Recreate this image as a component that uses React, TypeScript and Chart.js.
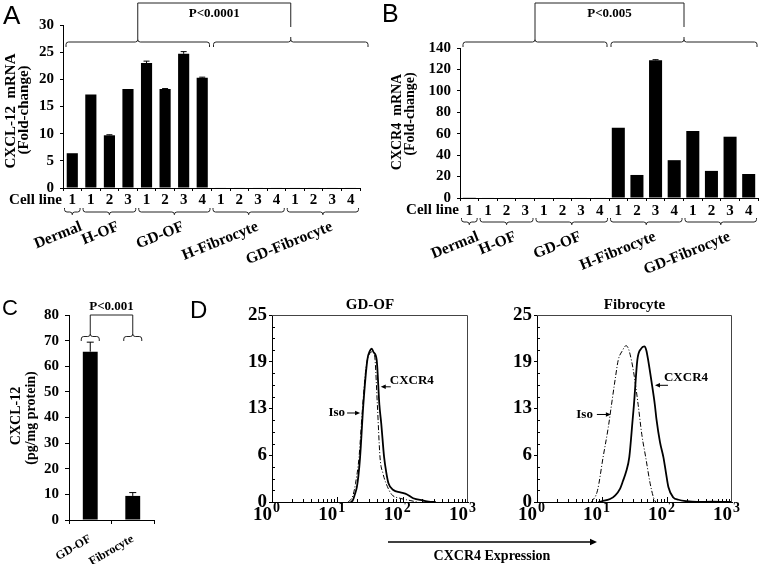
import React, { useEffect, useRef } from 'react';
import { Chart, registerables } from 'chart.js';

Chart.register(...registerables);
Chart.defaults.color = '#000';

const SERIF = '"Liberation Serif", "Times New Roman", Times, serif';
const SANS = '"Liberation Sans", Arial, Helvetica, sans-serif';

// ---------- Panels A & B : mRNA per cell line ----------
const cellLineLabels = ['1', '1', '2', '3', '1', '2', '3', '4', '1', '2', '3', '4', '1', '2', '3', '4'];
const cellGroups = ['Dermal', 'H-OF', 'GD-OF', 'H-Fibrocyte', 'GD-Fibrocyte'];
const cellGroupSizes = [1, 3, 4, 4, 4];
const comparisonSizes = [8, 8];
const cxcl12Mrna = [6.4, 17.2, 9.7, 18.2, 23.0, 18.2, 24.7, 20.3, 0.1, 0.1, 0.1, 0.1, 0.1, 0.1, 0.1, 0.1];
const cxcl12MrnaErr = [0, 0, 0.1, 0, 0.35, 0.1, 0.4, 0.1, 0, 0, 0, 0, 0, 0, 0, 0];
const cxcr4Mrna = [0.3, 0.5, 0.5, 0.5, 0.5, 0.5, 0.5, 0.5, 65.5, 21.5, 128.5, 35.3, 62.5, 25.3, 57.2, 22.4];
const cxcr4MrnaErr = [0, 0, 0, 0, 0, 0, 0, 0, 0, 0, 0.6, 0, 0, 0, 0, 0];
const pA = 'P<0.0001';
const pB = 'P<0.005';

// ---------- Panel C : CXCL-12 protein ----------
const proteinCats = ['GD-OF', 'Fibrocyte'];
const cxcl12Protein = [65.7, 9.4];
const cxcl12ProteinErr = [3.7, 1.3];
const pC = 'P<0.001';

// ---------- Panel D : flow cytometry histograms ----------
const dYTicks = [0, 6.25, 12.5, 18.75, 25];
const gdofIsoX = [14.5, 16, 17.5, 19, 21.5, 24, 27.5, 31, 35.6, 37.8, 41, 45, 50, 55.7, 68, 91, 130, 165];
const gdofIsoY = [0, 0.3, 1, 2.5, 6, 12, 18, 19.8, 20.1, 19, 13, 6, 3.8, 2.5, 1, 0.5, 0.2, 0];
const gdofCxcr4X = [16, 17.2, 18.5, 19.9, 21, 22.3, 25, 28.8, 31.5, 33.6, 36, 40, 44, 47, 52, 56, 60.6, 72, 92, 117, 145, 205, 250, 320];
const gdofCxcr4Y = [0, 0.2, 1, 2, 3.5, 6, 13, 19, 20.2, 20.5, 20, 19, 13, 10.5, 6, 4, 2.5, 1.6, 1.3, 1.0, 0.5, 0.2, 0.05, 0];
const fibIsoX = [6.9, 8.5, 10.4, 12.5, 14, 16, 17.8, 20.5, 23.4, 25.5, 28.6, 31.4, 36, 41, 47, 55, 62, 67];
const fibIsoY = [0, 1.5, 6, 10, 13, 16.5, 19, 20.2, 20.9, 20.5, 18.8, 16.8, 13, 9, 6, 2.5, 0.6, 0];
const fibCxcr4X = [8.8, 9.9, 13.3, 16, 19, 21, 23.4, 26.3, 29.6, 31, 35, 40, 44.7, 48, 51.7, 58, 65, 69, 78, 88, 96, 105, 125, 150, 200, 290, 500, 1000];
const fibCxcr4Y = [0, 0.1, 0.4, 0.9, 1.8, 2.8, 4, 6, 11, 13, 19, 20.5, 20.8, 20.3, 18.8, 16, 13, 11, 8, 6, 4, 2, 0.6, 0.3, 0.1, 0, 0.05, 0];

// ---------- helpers ----------
const f = (size: number, weight: string = 'bold', family: string = SERIF) => `${weight} ${size}px ${family}`;
const tickFont = (size: number) => ({ family: SERIF, size, weight: 'bold' as const });
const zip = (xs: number[], ys: number[]) => xs.map((x, i) => ({ x, y: ys[i] }));
const DEG = Math.PI / 180;

function txt(ctx: CanvasRenderingContext2D, s: string, x: number, y: number, font: string,
  align: CanvasTextAlign = 'center', baseline: CanvasTextBaseline = 'middle', rot = 0) {
  ctx.save();
  ctx.translate(x, y);
  if (rot) ctx.rotate(rot);
  ctx.font = font;
  ctx.fillStyle = '#000';
  ctx.textAlign = align;
  ctx.textBaseline = baseline;
  ctx.fillText(s, 0, 0);
  ctx.restore();
}

function brace(ctx: CanvasRenderingContext2D, x1: number, x2: number, yEnd: number, yMid: number, yTip: number) {
  const cx = (x1 + x2) / 2;
  const r = 2.5;
  const de = Math.sign(yEnd - yMid);
  const dt = Math.sign(yTip - yMid);
  ctx.beginPath();
  ctx.moveTo(x1, yEnd);
  ctx.lineTo(x1, yMid + de * r);
  ctx.quadraticCurveTo(x1, yMid, x1 + r, yMid);
  ctx.lineTo(cx - r, yMid);
  ctx.quadraticCurveTo(cx, yMid, cx, yMid + dt * r);
  ctx.lineTo(cx, yTip);
  ctx.moveTo(cx, yMid + dt * r);
  ctx.quadraticCurveTo(cx, yMid, cx + r, yMid);
  ctx.lineTo(x2 - r, yMid);
  ctx.quadraticCurveTo(x2, yMid, x2, yMid + de * r);
  ctx.lineTo(x2, yEnd);
  ctx.stroke();
}

function arrow(ctx: CanvasRenderingContext2D, x1: number, y1: number, x2: number, y2: number, head = 5, lw = 1) {
  const a = Math.atan2(y2 - y1, x2 - x1);
  ctx.save();
  ctx.strokeStyle = '#000';
  ctx.fillStyle = '#000';
  ctx.lineWidth = lw;
  ctx.beginPath();
  ctx.moveTo(x1, y1);
  ctx.lineTo(x2 - Math.cos(a) * head * 0.6, y2 - Math.sin(a) * head * 0.6);
  ctx.stroke();
  ctx.beginPath();
  ctx.moveTo(x2, y2);
  ctx.lineTo(x2 - Math.cos(a) * head - Math.sin(a) * head * 0.45, y2 - Math.sin(a) * head + Math.cos(a) * head * 0.45);
  ctx.lineTo(x2 - Math.cos(a) * head + Math.sin(a) * head * 0.45, y2 - Math.sin(a) * head - Math.cos(a) * head * 0.45);
  ctx.closePath();
  ctx.fill();
  ctx.restore();
}

function groupSpans(scale: any, sizes: number[], n: number) {
  const step = (scale.right - scale.left) / n;
  let i = 0;
  return sizes.map((sz) => {
    const x1 = scale.getPixelForValue(i) - step / 2;
    const x2 = scale.getPixelForValue(i + sz - 1) + step / 2;
    i += sz;
    return { x1, x2, cx: (x1 + x2) / 2 };
  });
}

function drawErrorBars(chart: any, errs: number[], cap: number) {
  const { ctx } = chart;
  const meta = chart.getDatasetMeta(0);
  const ys = chart.scales.y;
  const vals = chart.data.datasets[0].data as number[];
  ctx.save();
  ctx.strokeStyle = '#000';
  ctx.lineWidth = 1;
  errs.forEach((e, i) => {
    if (!e) return;
    const x = meta.data[i].x;
    const y0 = ys.getPixelForValue(vals[i]);
    const y1 = ys.getPixelForValue(vals[i] + e);
    ctx.beginPath();
    ctx.moveTo(x, y0);
    ctx.lineTo(x, y1);
    ctx.moveTo(x - cap / 2, y1);
    ctx.lineTo(x + cap / 2, y1);
    ctx.stroke();
  });
  ctx.restore();
}

function drawCellLineGroups(ctx: CanvasRenderingContext2D, x: any, bottom: number) {
  txt(ctx, 'Cell line', x.left - 1, bottom + 12, f(15), 'right', 'middle');
  const spans = groupSpans(x, cellGroupSizes, cellLineLabels.length);
  spans.forEach((s, i) => {
    brace(ctx, s.x1 + 1.5, s.x2 - 1.5, bottom + 20, bottom + 24, bottom + 27);
    txt(ctx, cellGroups[i], s.cx + 6, bottom + 31, f(15.5), 'right', 'top', -22 * DEG);
  });
}

function drawTopComparison(ctx: CanvasRenderingContext2D, x: any, label: string,
  o: { yTop: number; yEnd: number; yMid: number; yTip: number; yRight: number; rightExtra: number }) {
  const [l, r] = groupSpans(x, comparisonSizes, cellLineLabels.length);
  const L = { x1: l.x1 + 3, x2: l.x2 - 2 };
  const R = { x1: r.x1 + 2, x2: r.x2 + o.rightExtra };
  const lc = (L.x1 + L.x2) / 2;
  const rc = (R.x1 + R.x2) / 2;
  brace(ctx, L.x1, L.x2, o.yEnd, o.yMid, o.yTip);
  brace(ctx, R.x1, R.x2, o.yEnd, o.yMid, o.yTip);
  ctx.beginPath();
  ctx.moveTo(lc, o.yTip);
  ctx.lineTo(lc, o.yTop);
  ctx.lineTo(rc, o.yTop);
  ctx.lineTo(rc, o.yRight);
  ctx.stroke();
  txt(ctx, label, (lc + rc) / 2, o.yTop + 11, f(13));
}

function barOpts(o: any) {
  return {
    responsive: false,
    animation: false,
    devicePixelRatio: 1,
    events: [],
    layout: { padding: { left: 0, right: o.padRight, top: o.padTop, bottom: 0 } },
    plugins: { legend: { display: false }, tooltip: { enabled: false }, title: { display: false } },
    scales: {
      x: {
        grid: { display: true, drawOnChartArea: false, drawTicks: true, tickLength: o.xTickLen ?? 3, color: '#000', lineWidth: 1 },
        border: { display: true, color: '#000', width: 1 },
        ticks: {
          color: '#000', font: tickFont(o.xFont ?? 15), padding: o.xTickPad, autoSkip: false,
          minRotation: o.rot ?? 0, maxRotation: o.rot ?? 0,
        },
        afterFit: (s: any) => { s.height = o.xHeight; },
      },
      y: {
        min: 0,
        max: o.yMax,
        grid: { display: true, drawOnChartArea: false, drawTicks: true, tickLength: o.yTickLen ?? 3, color: '#000', lineWidth: 1 },
        border: { display: true, color: '#000', width: 1 },
        ticks: { stepSize: o.yStep, color: '#000', font: tickFont(15), padding: o.yTickPad },
        afterFit: (s: any) => { s.width = o.yWidth; },
      },
    },
  };
}

// ---------- Panel A ----------
function makeA() {
  return {
    type: 'bar',
    data: {
      labels: cellLineLabels,
      datasets: [{ data: cxcl12Mrna, backgroundColor: '#000', borderWidth: 0, barPercentage: 0.6, categoryPercentage: 1 }],
    },
    options: barOpts({ padTop: 25, padRight: 20, yWidth: 63, xHeight: 102, yMax: 30, yStep: 5, yTickPad: 6, xTickPad: 0 }),
    plugins: [{
      id: 'annA',
      afterDraw(chart: any) {
        const { ctx, chartArea: ca, scales } = chart;
        ctx.save();
        ctx.strokeStyle = '#222';
        ctx.lineWidth = 1;
        txt(ctx, 'A', 3, 24, f(26, 'normal', SANS), 'left', 'alphabetic');
        txt(ctx, 'CXCL-12  mRNA', 11, 111, f(15), 'center', 'middle', -90 * DEG);
        txt(ctx, '(Fold-change)', 24, 110, f(15), 'center', 'middle', -90 * DEG);
        drawErrorBars(chart, cxcl12MrnaErr, 6);
        drawCellLineGroups(ctx, scales.x, ca.bottom);
        drawTopComparison(ctx, scales.x, pA, { yTop: 3, yEnd: 47, yMid: 42, yTip: 37, yRight: 27, rightExtra: 8 });
        ctx.restore();
      },
    }],
  };
}

// ---------- Panel B ----------
function makeB() {
  return {
    type: 'bar',
    data: {
      labels: cellLineLabels,
      datasets: [{ data: cxcr4Mrna, backgroundColor: '#000', borderWidth: 0, barPercentage: 0.7, categoryPercentage: 1 }],
    },
    options: barOpts({ padTop: 48, padRight: 4, yWidth: 80, xHeight: 92, yMax: 140, yStep: 20, yTickPad: 6, xTickPad: 1 }),
    plugins: [{
      id: 'annB',
      afterDraw(chart: any) {
        const { ctx, chartArea: ca, scales } = chart;
        ctx.save();
        ctx.strokeStyle = '#222';
        ctx.lineWidth = 1;
        txt(ctx, 'B', 2, 22, f(25, 'normal', SANS), 'left', 'alphabetic');
        txt(ctx, 'CXCR4  mRNA', 17, 122, f(14), 'center', 'middle', -90 * DEG);
        txt(ctx, '(Fold-change)', 30, 114, f(14), 'center', 'middle', -90 * DEG);
        drawErrorBars(chart, cxcr4MrnaErr, 6);
        drawCellLineGroups(ctx, scales.x, ca.bottom);
        drawTopComparison(ctx, scales.x, pB, { yTop: 3, yEnd: 47, yMid: 42, yTip: 37, yRight: 27, rightExtra: -1 });
        ctx.restore();
      },
    }],
  };
}

// ---------- Panel C ----------
function makeC() {
  return {
    type: 'bar',
    data: {
      labels: proteinCats,
      datasets: [{ data: cxcl12Protein, backgroundColor: '#000', borderWidth: 0, barPercentage: 0.35, categoryPercentage: 1 }],
    },
    options: barOpts({ padTop: 25, padRight: 31, yWidth: 69, xHeight: 44, yMax: 80, yStep: 10, yTickPad: 6, xTickPad: 8, xTickLen: 4, yTickLen: 4, rot: 30, xFont: 12 }),
    plugins: [{
      id: 'annC',
      afterDraw(chart: any) {
        const { ctx } = chart;
        ctx.save();
        ctx.strokeStyle = '#222';
        ctx.lineWidth = 1;
        txt(ctx, 'C', 2, 25, f(22, 'normal', SANS), 'left', 'alphabetic');
        txt(ctx, 'CXCL-12', 16, 126, f(14), 'center', 'middle', -90 * DEG);
        txt(ctx, '(pg/mg protein)', 31, 128, f(14), 'center', 'middle', -90 * DEG);
        drawErrorBars(chart, cxcl12ProteinErr, 7);
        const meta = chart.getDatasetMeta(0);
        const c0 = meta.data[0].x;
        const c1 = meta.data[1].x;
        brace(ctx, c0 - 9, c0 + 9, 51, 46.5, 43);
        brace(ctx, c1 - 9, c1 + 9, 51, 46.5, 43);
        ctx.beginPath();
        ctx.moveTo(c0, 43);
        ctx.lineTo(c0, 25);
        ctx.lineTo(c1, 25);
        ctx.lineTo(c1, 43);
        ctx.stroke();
        txt(ctx, pC, (c0 + c1) / 2, 17, f(13));
        ctx.restore();
      },
    }],
  };
}

// ---------- Panel D ----------
function drawHist(chart: any, o: any) {
  const { ctx, chartArea: ca, scales: { x, y } } = chart;
  ctx.save();
  ctx.strokeStyle = '#444';
  ctx.lineWidth = 1;
  ctx.beginPath();
  ctx.moveTo(ca.left, ca.top + 0.5);
  ctx.lineTo(ca.right - 0.5, ca.top + 0.5);
  ctx.lineTo(ca.right - 0.5, ca.bottom);
  ctx.stroke();
  ctx.strokeStyle = '#000';
  ctx.beginPath();
  for (let d = 0; d < 3; d++) {
    for (let m = 1; m <= 9; m++) {
      const px = Math.round(x.getPixelForValue(m * Math.pow(10, d))) + 0.5;
      const len = m === 1 ? 5 : 3;
      ctx.moveTo(px, ca.bottom);
      ctx.lineTo(px, ca.bottom - len);
    }
  }
  for (let k = 1; k < 16; k++) {
    if (k % 4 === 0) continue;
    const py = Math.round(y.getPixelForValue(k * 1.5625)) + 0.5;
    ctx.moveTo(ca.left, py);
    ctx.lineTo(ca.left + 3, py);
  }
  ctx.stroke();
  for (let d = 0; d <= 3; d++) {
    const px = x.getPixelForValue(Math.pow(10, d));
    txt(ctx, '10', px, ca.bottom + 18, f(19), 'right', 'alphabetic');
    txt(ctx, String(d), px + 1, ca.bottom + 10, f(14), 'left', 'alphabetic');
  }
  txt(ctx, o.title, (ca.left + ca.right) / 2, ca.top - 10, f(15));
  const it = { x: x.getPixelForValue(o.isoTip[0]), y: y.getPixelForValue(o.isoTip[1]) };
  arrow(ctx, it.x - o.isoLen, it.y, it.x, it.y, 5);
  txt(ctx, 'Iso', it.x - o.isoLen - o.isoGap, it.y, f(13), 'right', 'middle');
  const ct = { x: x.getPixelForValue(o.cTip[0]), y: y.getPixelForValue(o.cTip[1]) };
  arrow(ctx, ct.x + o.cLen, ct.y, ct.x, ct.y, 5);
  txt(ctx, 'CXCR4', ct.x + o.cLen + o.cDx, ct.y - o.cDy, f(13), 'left', 'middle');
  if (o.letter) txt(ctx, o.letter, 5, 28, f(24, 'normal', SANS), 'left', 'alphabetic');
  if (o.expression) {
    arrow(ctx, 8, 252, 217, 252, 7, 1.3);
    txt(ctx, 'CXCR4 Expression', 112, 266, f(14));
  }
  ctx.restore();
}

function makeHist(isoX: number[], isoY: number[], cX: number[], cY: number[], padRight: number, yWidth: number, ann: any) {
  return {
    type: 'line',
    data: {
      datasets: [
        { data: zip(isoX, isoY), borderColor: '#000', borderWidth: 1, borderDash: [5, 2, 1, 2], pointRadius: 0, fill: false, cubicInterpolationMode: 'monotone' },
        { data: zip(cX, cY), borderColor: '#000', borderWidth: 1.8, pointRadius: 0, fill: false, cubicInterpolationMode: 'monotone' },
      ],
    },
    options: {
      responsive: false,
      animation: false,
      devicePixelRatio: 1,
      events: [],
      layout: { padding: { left: 0, right: padRight, top: 25, bottom: 0 } },
      plugins: { legend: { display: false }, tooltip: { enabled: false } },
      scales: {
        x: {
          type: 'logarithmic', min: 1, max: 1000,
          grid: { display: false },
          border: { display: true, color: '#000', width: 1 },
          ticks: { display: false },
          afterFit: (s: any) => { s.height = 62; },
        },
        y: {
          type: 'linear', min: 0, max: 25,
          grid: { display: true, drawOnChartArea: false, drawTicks: true, tickLength: 3, color: '#000' },
          border: { display: true, color: '#000', width: 1 },
          afterBuildTicks: (s: any) => { s.ticks = dYTicks.map((v) => ({ value: v })); },
          ticks: { color: '#000', font: tickFont(19), padding: 2, callback: (v: any) => String(Math.round(Number(v))) },
          afterFit: (s: any) => { s.width = yWidth; },
        },
      },
    },
    plugins: [{ id: 'hist', afterDraw: (chart: any) => drawHist(chart, ann) }],
  };
}

const makeD1 = () => makeHist(gdofIsoX, gdofIsoY, gdofCxcr4X, gdofCxcr4Y, 12, 87,
  { title: 'GD-OF', letter: 'D', isoTip: [22.3, 11.9], isoLen: 13, isoGap: 2, cTip: [46.2, 15.4], cLen: 10, cDx: -1, cDy: 6.5 });
const makeD2 = () => makeHist(fibIsoX, fibIsoY, fibCxcr4X, fibCxcr4Y, 30, 157,
  { title: 'Fibrocyte', isoTip: [13.7, 11.7], isoLen: 14, isoGap: 4, cTip: [65.3, 15.6], cLen: 13, cDx: -4, cDy: 7.5, expression: true });

function PanelCanvas({ left, top, width, height, make }: { left: number; top: number; width: number; height: number; make: () => any }) {
  const ref = useRef<HTMLCanvasElement>(null);
  useEffect(() => {
    const chart = new Chart(ref.current as HTMLCanvasElement, make());
    return () => chart.destroy();
  }, []);
  return (
    <canvas
      ref={ref}
      width={width}
      height={height}
      style={{ position: 'absolute', left, top, width, height, display: 'block' }}
    />
  );
}

export default function App() {
  return (
    <div style={{ position: 'absolute', left: 0, top: 0, width: 762, height: 564, background: '#fff', overflow: 'hidden' }}>
      <PanelCanvas left={0} top={0} width={380} height={290} make={makeA} />
      <PanelCanvas left={380} top={0} width={382} height={290} make={makeB} />
      <PanelCanvas left={0} top={290} width={185} height={274} make={makeC} />
      <PanelCanvas left={185} top={290} width={295} height={274} make={makeD1} />
      <PanelCanvas left={380} top={290} width={382} height={274} make={makeD2} />
    </div>
  );
}
